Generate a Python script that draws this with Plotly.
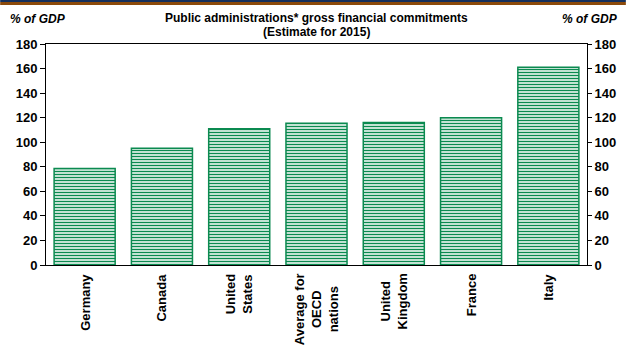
import plotly.graph_objects as go

categories = ["Germany", "Canada", "United States", "Average for OECD nations",
              "United Kingdom", "France", "Italy"]
label_text = ["Germany", "Canada", "United<br>States", "Average for<br>OECD<br>nations",
              "United<br>Kingdom", "France", "Italy"]
values = [78.5, 95, 111, 115.5, 116, 120, 161]
tick_vals = [0, 20, 40, 60, 80, 100, 120, 140, 160, 180]

GREEN = "#0b8a50"
FONT = "Liberation Sans, Arial, sans-serif"
W, H = 628, 349
ML, MR, MT, MB = 46, 39, 44, 84
pw, ph = W - ML - MR, H - MT - MB

fig = go.Figure()
fig.add_trace(go.Bar(
    x=categories, y=values,
    marker=dict(color="white", line=dict(color=GREEN, width=1.5),
                pattern=dict(shape="-", fgcolor=GREEN, fgopacity=1, bgcolor="white",
                             size=3, solidity=0.5, fillmode="replace")),
    showlegend=False, hoverinfo="skip"))
fig.add_trace(go.Scatter(x=categories, y=values, yaxis="y2", mode="markers",
                         marker=dict(opacity=0), showlegend=False, hoverinfo="skip"))

for c, t in zip(categories, label_text):
    fig.add_annotation(x=c, xref="x", y=-0.03, yref="paper", text="<b>" + t + "</b>", textangle=-90,
                       showarrow=False, align="center", xanchor="center", yanchor="top",
                       font=dict(family=FONT, size=13, color="black", weight="bold"))

title_font = dict(family=FONT, size=12, color="black", weight="bold")
fig.add_annotation(x=0.5, xref="paper", y=1 + 26 / ph, yref="paper", yanchor="middle",
                   text="<b>Public administrations* gross financial commitments</b>",
                   showarrow=False, font=title_font)
fig.add_annotation(x=0.5, xref="paper", y=1 + 12 / ph, yref="paper", yanchor="middle",
                   text="<b>(Estimate for 2015)</b>",
                   showarrow=False, font=title_font)
fig.add_annotation(x=-38 / pw, xref="paper", xanchor="left", y=1 + 25 / ph, yref="paper",
                   yanchor="middle", text="<b><i>% of GDP</i></b>", showarrow=False, font=title_font)
fig.add_annotation(x=1 + 33 / pw, xref="paper", xanchor="right", y=1 + 25 / ph, yref="paper",
                   yanchor="middle", text="<b><i>% of GDP</i></b>", showarrow=False, font=title_font)

# top decorative strip
x0p, x1p = -ML / pw, 1 + MR / pw
fig.add_shape(type="rect", xref="paper", yref="paper", x0=x0p, x1=x1p,
              y0=1 + (MT - 2) / ph, y1=1 + MT / ph, fillcolor="#13305e", line_width=0, layer="above")
fig.add_shape(type="rect", xref="paper", yref="paper", x0=x0p, x1=x1p,
              y0=1 + (MT - 5) / ph, y1=1 + (MT - 2) / ph, fillcolor="#8b4a0b", line_width=0, layer="above")

axis_font = dict(family=FONT, size=13, color="black", weight="bold")
fig.update_layout(
    width=W, height=H, margin=dict(l=ML, r=MR, t=MT, b=MB),
    paper_bgcolor="white", plot_bgcolor="white", bargap=0.21,
    xaxis=dict(showticklabels=False, showline=True, linecolor="black", linewidth=1,
               mirror=True, ticks="", showgrid=False, fixedrange=True),
    yaxis=dict(range=[0, 180], tickvals=tick_vals, ticks="outside", ticklen=5,
               tickcolor="black", showline=True, linecolor="black", linewidth=1,
               showgrid=False, zeroline=False, tickfont=axis_font),
    yaxis2=dict(range=[0, 180], tickvals=tick_vals, overlaying="y", side="right",
                ticks="outside", ticklen=4, tickcolor="black", showline=True,
                linecolor="black", linewidth=1, showgrid=False, zeroline=False,
                tickfont=axis_font),
)
fig.write_html("out.html")
